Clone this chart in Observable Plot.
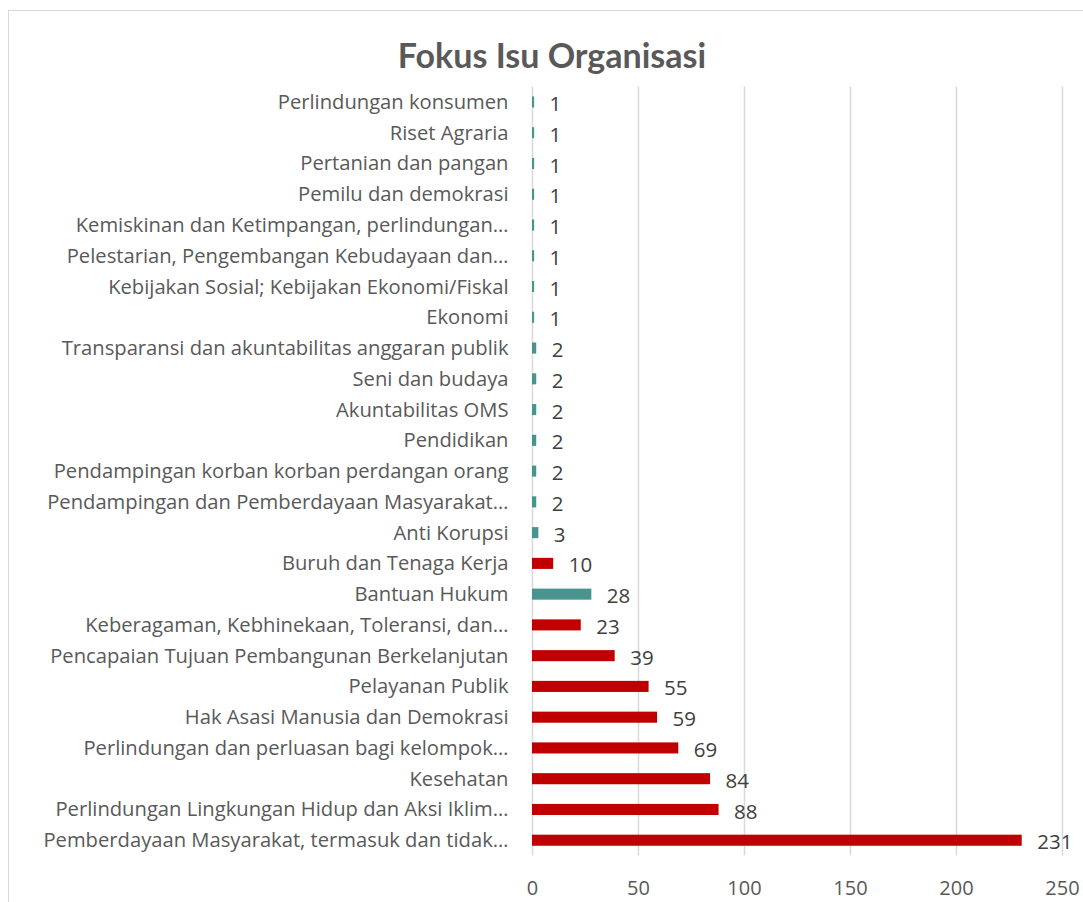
<!DOCTYPE html>
<html>
<head>
<meta charset="utf-8">
<script src="https://cdn.jsdelivr.net/npm/d3@7"></script>
<script src="https://cdn.jsdelivr.net/npm/@observablehq/plot@0.6"></script>
<style>
  html, body { margin: 0; padding: 0; background: #fff; overflow: hidden; }
  #frame { position: absolute; left: 8px; top: 10px; width: 1200px; height: 1000px; border: 1.5px solid #d9d9d9; box-sizing: border-box; }
  #title { position: absolute; left: 0; top: 34px; width: 1104px; text-align: center; font-family: Lato, sans-serif; font-weight: bold; font-size: 34px; color: #595959; }
  #chart { position: absolute; left: 0; top: 80px; }
</style>
</head>
<body>
<div id="frame"></div>
<div id="title">Fokus Isu Organisasi</div>
<div id="chart"></div>
<script>
const categories = [
  "Perlindungan konsumen",
  "Riset Agraria",
  "Pertanian dan pangan",
  "Pemilu dan demokrasi",
  "Kemiskinan dan Ketimpangan, perlindungan…",
  "Pelestarian, Pengembangan Kebudayaan dan…",
  "Kebijakan Sosial; Kebijakan Ekonomi/Fiskal",
  "Ekonomi",
  "Transparansi dan akuntabilitas anggaran publik",
  "Seni dan budaya",
  "Akuntabilitas OMS",
  "Pendidikan",
  "Pendampingan korban korban perdangan orang",
  "Pendampingan dan Pemberdayaan Masyarakat…",
  "Anti Korupsi",
  "Buruh dan Tenaga Kerja",
  "Bantuan Hukum",
  "Keberagaman, Kebhinekaan, Toleransi, dan…",
  "Pencapaian Tujuan Pembangunan Berkelanjutan",
  "Pelayanan Publik",
  "Hak Asasi Manusia dan Demokrasi",
  "Perlindungan dan perluasan bagi kelompok…",
  "Kesehatan",
  "Perlindungan Lingkungan Hidup dan Aksi Iklim…",
  "Pemberdayaan Masyarakat, termasuk dan tidak…"
];
const values = [1, 1, 1, 1, 1, 1, 1, 1, 2, 2, 2, 2, 2, 2, 3, 10, 28, 23, 39, 55, 59, 69, 84, 88, 231];
const groups = ["a","a","a","a","a","a","a","a","a","a","a","a","a","a","a","b","a","b","b","b","b","b","b","b","b"];
const xTicks = [0, 50, 100, 150, 200, 250];

const data = categories.map((c, i) => ({category: c, value: values[i], group: groups[i]}));

const font = "'Open Sans', sans-serif";
const chart = Plot.plot({
  width: 1083,
  height: 825.6,
  marginLeft: 532,
  marginRight: 21,
  marginTop: 6.6,
  marginBottom: 50,
  style: {fontFamily: font, fontSize: "20px", color: "#595959", background: "transparent"},
  x: {domain: [0, 250], ticks: xTicks, label: null},
  y: {domain: categories, paddingInner: 0.64, paddingOuter: 0.32, round: false, label: null},
  color: {domain: ["a", "b"], range: ["#4A9490", "#C00000"]},
  marks: [
    Plot.gridX(xTicks, {stroke: "#d9d9d9", strokeOpacity: 1, strokeWidth: 1.5}),
    Plot.barX(data, {x: "value", y: "category", fill: "group"}),
    Plot.text(data, {x: "value", y: "category", text: d => String(d.value), textAnchor: "start", dx: 15, dy: 2, fill: "#404040", fontSize: 20.5}),
    Plot.axisX({ticks: xTicks, tickSize: 0, tickPadding: 25, fontSize: 20, fill: "#595959", label: null}),
    Plot.axisY({tickSize: 0, tickPadding: 24, fontSize: 20.2, fill: "#595959", label: null})
  ]
});
document.getElementById("chart").appendChild(chart);
</script>
</body>
</html>
